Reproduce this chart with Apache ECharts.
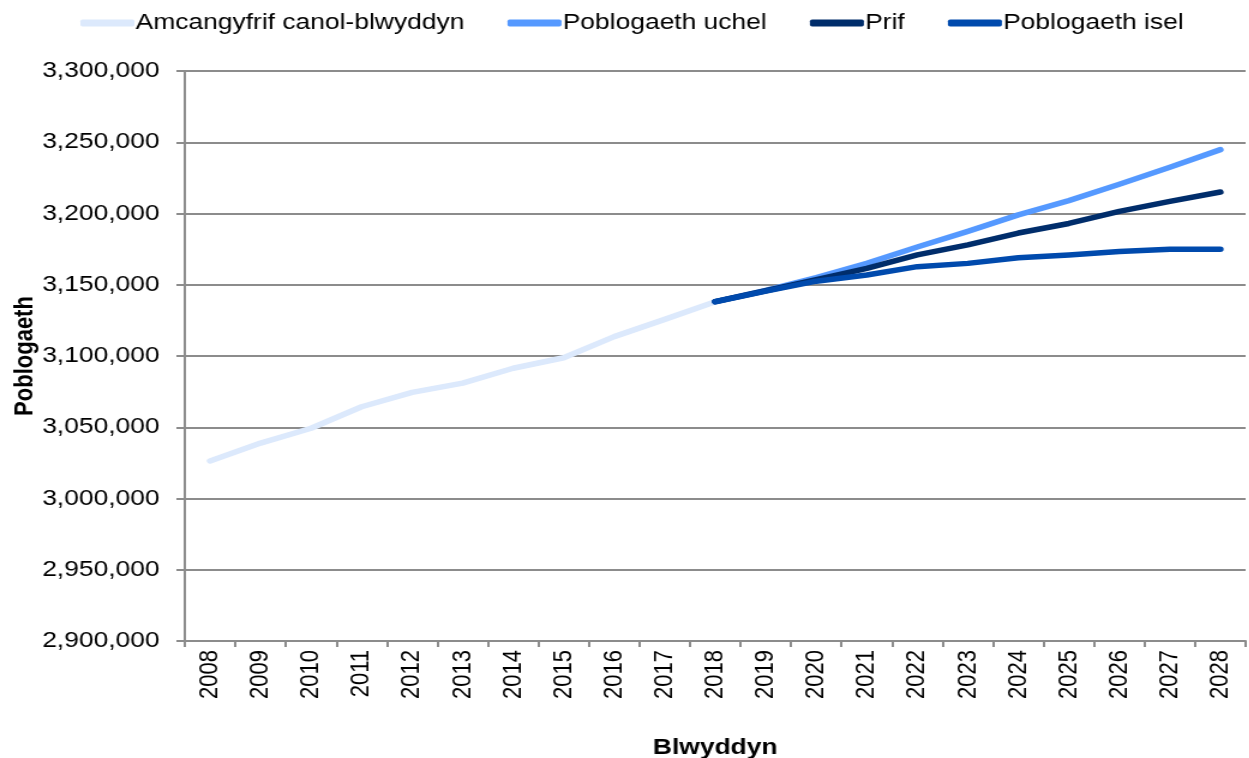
<!DOCTYPE html>
<html>
<head>
<meta charset="utf-8">
<title>Poblogaeth</title>
<script src="https://cdn.jsdelivr.net/npm/echarts@6/dist/echarts.min.js"></script>
<style>
  html, body { margin: 0; padding: 0; background: #fff; overflow: hidden; }
  /* the source picture is stretched sideways by about 1.2, so the chart is too */
  #chart { width: 1041px; height: 758px; transform: scaleX(1.2); transform-origin: 0 0; }
</style>
</head>
<body>
<div id="chart"></div>
<script>
var years = ['2008', '2009', '2010', '2011', '2012', '2013', '2014', '2015', '2016', '2017', '2018',
  '2019', '2020', '2021', '2022', '2023', '2024', '2025', '2026', '2027', '2028']

var amcangyfrif = [3026300, 3038900, 3049300, 3064400, 3074500, 3081000, 3091400, 3098800, 3113600, 3125700, 3138100,
  null, null, null, null, null, null, null, null, null, null]
var uchel = [null, null, null, null, null, null, null, null, null, null,
  3138100, 3146000, 3155000, 3165000, 3176500, 3187500, 3199000, 3209000, 3220500, 3232500, 3244800]
var prif = [null, null, null, null, null, null, null, null, null, null,
  3138100, 3145800, 3153500, 3161500, 3171000, 3178000, 3186300, 3193000, 3201500, 3208500, 3215100]
var isel = [null, null, null, null, null, null, null, null, null, null,
  3138100, 3145500, 3152500, 3156800, 3162700, 3165000, 3169000, 3170900, 3173300, 3174900, 3174900]

var yMin = 2900000
var yMax = 3300000
var yStep = 50000

var font = "'Liberation Sans', Arial, sans-serif"
var gridColor = '#8c8c8c'

function lineSeries (name, data, color) {
  return {
    name: name,
    type: 'line',
    data: data,
    showSymbol: false,
    symbol: 'none',
    connectNulls: false,
    lineStyle: { width: 5.5, color: color, cap: 'round', join: 'round' },
    itemStyle: { color: color },
    emphasis: { disabled: true }
  }
}

var chart = echarts.init(document.getElementById('chart'))
chart.setOption({
  animation: false,
  backgroundColor: '#fff',
  textStyle: { fontFamily: font },
  grid: {
    left: 154,
    right: 3,
    top: 71,
    bottom: 117,
    containLabel: false,
    outerBoundsMode: 'none'
  },
  legend: {
    left: 62,
    top: 7,
    icon: 'roundRect',
    itemWidth: 45,
    itemHeight: 7,
    itemGap: 36,
    textStyle: { color: '#000', fontSize: 22, fontFamily: font, padding: [0, 0, 0, -4] },
    data: ['Amcangyfrif canol-blwyddyn', 'Poblogaeth uchel', 'Prif', 'Poblogaeth isel']
  },
  xAxis: {
    type: 'category',
    data: years,
    boundaryGap: true,
    name: 'Blwyddyn',
    nameLocation: 'middle',
    nameGap: 96,
    nameMoveOverlap: false,
    nameTextStyle: { color: '#000', fontSize: 22, fontWeight: 'bold', fontFamily: font },
    axisLine: { lineStyle: { color: gridColor, width: 2 } },
    axisTick: { show: true, length: 6, alignWithLabel: false, lineStyle: { color: gridColor, width: 2 } },
    axisLabel: { rotate: 90, margin: 9, color: '#000', fontSize: 22, fontFamily: font, interval: 0 },
    splitLine: { show: false }
  },
  yAxis: {
    type: 'value',
    min: yMin,
    max: yMax,
    interval: yStep,
    name: 'Poblogaeth',
    nameLocation: 'middle',
    nameGap: 122,
    nameMoveOverlap: false,
    nameTextStyle: { color: '#000', fontSize: 22, fontWeight: 'bold', fontFamily: font },
    axisLine: { show: true, lineStyle: { color: gridColor, width: 2 } },
    axisTick: { show: true, length: 7, lineStyle: { color: gridColor, width: 2 } },
    axisLabel: {
      margin: 21,
      color: '#000',
      fontSize: 22,
      fontFamily: font,
      formatter: function (v) { return v.toLocaleString('en-US') }
    },
    splitLine: { show: true, lineStyle: { color: gridColor, width: 2 } }
  },
  series: [
    lineSeries('Amcangyfrif canol-blwyddyn', amcangyfrif, '#dce9fc'),
    lineSeries('Poblogaeth uchel', uchel, '#5599ff'),
    lineSeries('Prif', prif, '#002d6b'),
    lineSeries('Poblogaeth isel', isel, '#004aad')
  ]
})
</script>
</body>
</html>
